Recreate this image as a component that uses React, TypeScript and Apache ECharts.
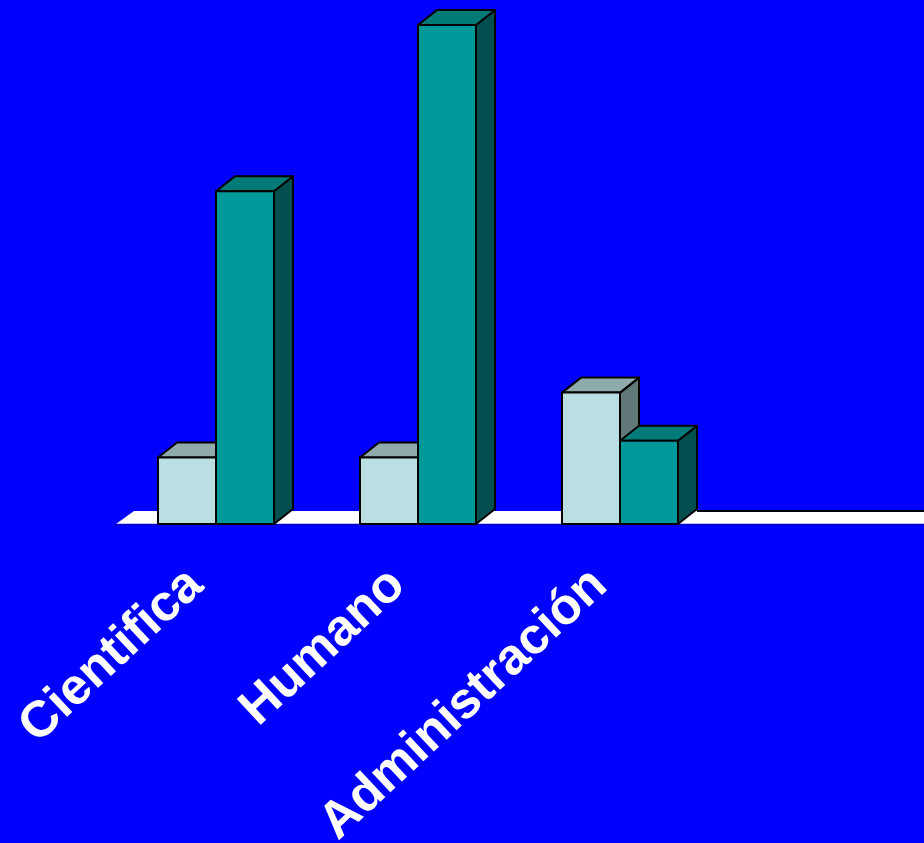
import React, { useEffect, useRef } from "react";
import * as echarts from "echarts";

const categories = ["Cientifica", "Humano", "Administración", ""];
const lightValues = [4, 4, 7.9, null];
const tealValues = [20, 30, 5, null];
const yMax = 30;

const DX = 19;
const DY = 15;
const FLOOR_DX = 18;
const FLOOR_DY = 13;
const BAR_RATIO = 58 / 202;

const styles = [
  { front: "#B9DFE2", top: "#8FAAAA", side: "#607878" },
  { front: "#009999", top: "#007A77", side: "#004F4F" },
];

function toData(vals: (number | null)[]) {
  const out: number[][] = [];
  vals.forEach((v, i) => {
    if (v !== null) out.push([i, v]);
  });
  return out;
}

function barRender(seriesIdx: number) {
  return (params: any, api: any) => {
    const ci = api.value(0);
    const v = api.value(1);
    const top = api.coord([ci, v]);
    const base = api.coord([ci, 0]);
    const band = api.size([1, 0])[0];
    const bw = band * BAR_RATIO;
    const x0 = top[0] - bw + seriesIdx * bw;
    const t = top[1];
    const b = base[1];
    const st = styles[seriesIdx];
    const line = { stroke: "#000000", lineWidth: 2, lineJoin: "round" };
    return {
      type: "group",
      children: [
        {
          type: "polygon",
          shape: {
            points: [
              [x0 + bw, t],
              [x0 + bw + DX, t - DY],
              [x0 + bw + DX, b - DY],
              [x0 + bw, b],
            ],
          },
          style: { fill: st.side, ...line },
        },
        {
          type: "polygon",
          shape: {
            points: [
              [x0, t],
              [x0 + DX, t - DY],
              [x0 + bw + DX, t - DY],
              [x0 + bw, t],
            ],
          },
          style: { fill: st.top, ...line },
        },
        {
          type: "rect",
          shape: { x: x0, y: t, width: bw, height: b - t },
          style: { fill: st.front, ...line },
        },
      ],
    };
  };
}

let lastIdx = 0;
categories.forEach((_, i) => {
  if (lightValues[i] !== null || tealValues[i] !== null) lastIdx = i;
});

function floorRender(params: any, api: any) {
  const cs = params.coordSys;
  const x = cs.x + 1;
  const y = cs.y + cs.height;
  const w = cs.width + 10;
  const band = api.size([1, 0])[0];
  const bw = band * BAR_RATIO;
  const lineStart = api.coord([lastIdx, 0])[0] + bw + DX;
  return {
    type: "group",
    children: [
      {
        type: "polygon",
        shape: {
          points: [
            [x, y],
            [x + FLOOR_DX, y - FLOOR_DY],
            [x + w + FLOOR_DX, y - FLOOR_DY],
            [x + w, y],
          ],
        },
        style: { fill: "#FFFFFF" },
      },
      {
        type: "line",
        shape: { x1: lineStart, y1: y - FLOOR_DY, x2: x + w + FLOOR_DX, y2: y - FLOOR_DY },
        style: { stroke: "#000000", lineWidth: 2 },
      },
      {
        type: "line",
        shape: { x1: x, y1: y + 0.5, x2: x + w, y2: y + 0.5 },
        style: { stroke: "#0000C8", lineWidth: 1.5 },
      },
    ],
  };
}

export default function App() {
  const ref = useRef<HTMLDivElement>(null);
  useEffect(() => {
    if (!ref.current) return;
    const chart = echarts.init(ref.current, null, { renderer: "svg" });
    chart.setOption({
      animation: false,
      backgroundColor: "#0000FF",
      grid: {
        left: 115,
        right: 1,
        top: 25,
        bottom: 319,
        containLabel: false,
        outerBoundsMode: "none",
      },
      xAxis: {
        type: "category",
        data: categories,
        boundaryGap: true,
        axisLine: { show: false },
        axisTick: { show: false },
        splitLine: { show: false },
        axisLabel: {
          interval: 0,
          rotate: 43,
          margin: 30,
          padding: [0, 31, 0, 0],
          color: "#FFFFFF",
          fontSize: 51,
          fontWeight: "bold",
          fontFamily: "'Liberation Sans', Arial, sans-serif",
        },
      },
      yAxis: {
        type: "value",
        min: 0,
        max: yMax,
        show: false,
        splitLine: { show: false },
      },
      series: [
        {
          type: "custom",
          coordinateSystem: "cartesian2d",
          renderItem: floorRender,
          data: [[0, 0]],
          silent: true,
          z: 1,
        },
        {
          type: "custom",
          name: "A",
          coordinateSystem: "cartesian2d",
          renderItem: barRender(0),
          data: toData(lightValues),
          encode: { x: 0, y: 1 },
          z: 2,
        },
        {
          type: "custom",
          name: "B",
          coordinateSystem: "cartesian2d",
          renderItem: barRender(1),
          data: toData(tealValues),
          encode: { x: 0, y: 1 },
          z: 3,
        },
      ],
    });
    return () => chart.dispose();
  }, []);
  return (
    <div
      ref={ref}
      style={{ position: "fixed", left: 0, top: 0, width: 924, height: 843, background: "#0000FF" }}
    />
  );
}
